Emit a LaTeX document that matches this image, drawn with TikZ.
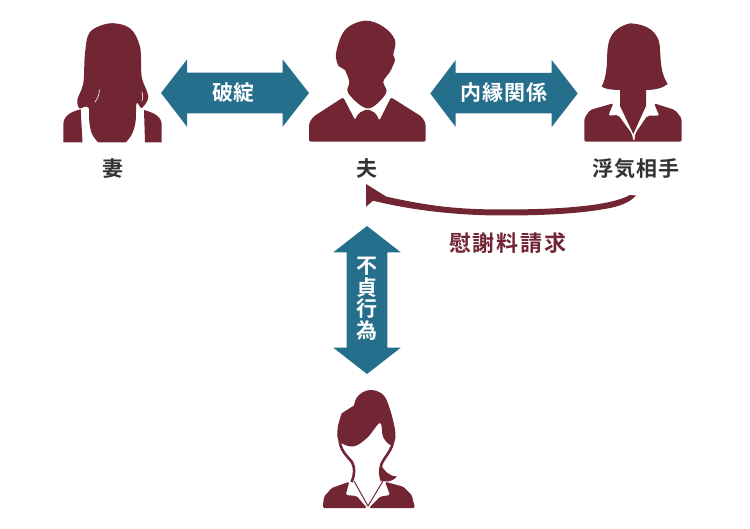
\documentclass[tikz,border=0pt]{standalone}
\usepackage{fontspec}
\setmainfont{Noto Sans CJK JP}[BoldFont={Noto Sans CJK JP Bold}]
\usetikzlibrary{calc}
\definecolor{maroon}{HTML}{722634}
\definecolor{teal2}{HTML}{256F8C}
\definecolor{ink}{HTML}{333333}
\tikzset{
  person/.style={fill=maroon,draw=none},
  band/.style={fill=teal2,draw=none},
  gap/.style={draw=white,line width=.6pt,line cap=round},
  who/.style={text=ink,font=\bfseries\fontsize{21}{22}\selectfont,inner sep=0pt,preaction={}},
  onband/.style={text=white,font=\bfseries\fontsize{21}{22}\selectfont,inner sep=0pt},
  claim/.style={text=maroon,font=\bfseries\fontsize{22}{22}\selectfont,inner sep=0pt},
}
\begin{document}
\begin{tikzpicture}[x=1pt,y=-1pt]
\useasboundingbox (0,0) rectangle (750,529);

% --- wife
\path[person] plot[smooth,tension=.55] coordinates {(98,142.3)(92,134)(89.3,122)(88.8,108)(84,107)(79.5,108.5)(77.3,100)(83.3,83.3)(85,53.3)(90,32)(110,23.3)(130,28.3)(140,46.7)(141.7,76.7)(148.3,96.7)(141.7,108)(136.7,103)(135.5,122)(132,134)(126,142.3)} -- cycle;
\draw[gap] (99.5,90) .. controls (99,96) and (97,99) .. (95,102);
\draw[gap] (142,92) .. controls (143,95) and (143,98) .. (142,101);
\path[person] (63.3,142.3) -- (63.3,125) .. controls (63.3,116) and (70,112) .. (80.7,109.3) -- (82.5,142.3) -- cycle;
\path[person] (161.7,142.3) -- (161.7,125) .. controls (161.7,117) and (155,113) .. (144,110) -- (145,142.3) -- cycle;

% --- husband
\path[person] plot[smooth,tension=.6] coordinates {(338.5,66)(336,53.3)(345,30)(365,20.7)(383.3,26.7)(395,40)(393.3,55)(395,60)(390,71.7)(383.3,81.7)(386,93.3)(368,108.5)(348.3,93.3)(349.3,81.7)(345,70)} -- cycle;
\path[person,rounded corners=2pt] (309,141.7) -- (309,123.3) -- (313.3,116.7) -- (343.3,97.3) -- (355,120) -- (358.3,113.3) -- (367.3,109) -- (376,113.3) -- (379.3,120.7) -- (391,97.3) -- (421.7,116.7) -- (425.7,123.3) -- (425.7,141.7) -- cycle;

% --- lover
\path[person] (601.7,86.7) .. controls (606,78) and (606,70) .. (606.7,66.7)
  .. controls (608,50) and (604,30) .. (630,23.3)
  .. controls (645,24) and (660,30) .. (660,50)
  .. controls (661,60) and (660,72) .. (667.7,84)
  .. controls (663,88) and (655,90) .. (646,90)
  -- (646,106) -- (633.3,134) -- (620,106) -- (620,90)
  .. controls (612,90) and (605,89) .. (601.7,86.7) -- cycle;
\path[person,rounded corners=2pt] (584.3,141.7) -- (584.3,118.3) -- (590,110) -- (613.3,103.3) -- (608.3,115.7) -- (618.3,115) -- (632,134) -- (633.5,141.7) -- (634.5,141.7) -- (635,134) -- (647.3,115.7) -- (659.3,115.7) -- (654,103.3) -- (675,110) -- (681.7,118.3) -- (681.7,141.7) -- cycle;

% --- bottom woman
\path[person] plot[smooth,tension=.6] coordinates {(354,405.5)(356.5,398)(363,392)(371.7,390)(381,393)(387,401)(393,420)(395.5,437)(390.7,445)(383,436.7)(380,423)(367,438)(353,446.5)(339,441)(337.7,428)(341.7,413.3)} -- cycle;
\draw[maroon,line width=2.6pt] (339.5,438) .. controls (339.5,450) and (347,456) .. (352,462) .. controls (355,468) and (355,474) .. (351.5,482);
\draw[maroon,line width=2.6pt] (393.5,438) .. controls (393,450) and (385,456) .. (381.5,464) .. controls (379.5,470) and (380,476) .. (382,481);
\path[person] (381,465) .. controls (384,470) and (388,476) .. (397,476.5) .. controls (392,482) and (386,483) .. (381,480) -- cycle;
\path[person,rounded corners=1.5pt] (322.7,508) -- (324,496.7) -- (331.7,488) -- (349.3,481.7) -- (345.7,495) -- (356.7,496) -- (367,508) -- cycle;
\path[person,rounded corners=1.5pt] (415,508) -- (411.7,495) -- (403.3,486.7) -- (385,481.7) -- (390,495) -- (380,496.7) -- (369,508) -- cycle;
\draw[maroon,line width=1pt] (354,481) -- (368,506) -- (383,481);

% --- teal arrows
\path[band] (161,93) coordinate (hl) -- (187,59.5) -- (187,72.7) -- (282.7,72.7) -- (282.7,59.5) -- (309,93) coordinate (hr) -- (282.7,126.7) -- (282.7,113.3) -- (187,113.3) -- (187,126.7) -- cycle;
\path[band] (430.3,93.5) coordinate (ll) -- (455.7,60) -- (455.7,73) -- (551.7,73) -- (551.7,60) -- (577.7,93.5) coordinate (lr) -- (551.7,127) -- (551.7,113.5) -- (455.7,113.5) -- (455.7,127) -- cycle;
\path[band] (367,226) coordinate (vt) -- (400.7,252.3) -- (387.3,252.3) -- (387.3,347.7) -- (400.7,347.7) -- (367,374) coordinate (vb) -- (333.3,347.7) -- (346.7,347.7) -- (346.7,252.3) -- (333.3,252.3) -- cycle;

% --- claim arrow
\path[person] (366,184) -- (386,196.5) .. controls (430,206.5) and (460,209.5) .. (503,209.5)
  .. controls (560,209.5) and (610,206) .. (630,195) -- (636,195.5)
  .. controls (632,200) and (625,205) .. (610,208)
  .. controls (580,214) and (540,215.5) .. (503,215.5)
  .. controls (460,215.5) and (415,211) .. (373,200.7) -- (366,206.7) -- cycle;

% --- labels
\node[who] (wife) at (113,169) {妻};
\node[who] (husband) at (367,169) {夫};
\node[who] (lover) at (636,169) {浮\kern1pt 気\kern1pt 相\kern1pt 手};
\node[onband] (rupture) at (233,93) {破綻};
\node[onband] (affair) at (504,93) {内\kern1pt 縁\kern1pt 関\kern1pt 係};
\node[claim] (money) at (508,243) {慰\kern2pt 謝\kern2pt 料\kern2pt 請\kern2pt 求};
\node[onband] (c1) at (367,266) {不};
\node[onband] (c2) at (367,287.5) {貞};
\node[onband] (c3) at (367,309) {行};
\node[onband] (c4) at (367,330.5) {為};
\end{tikzpicture}
\end{document}
